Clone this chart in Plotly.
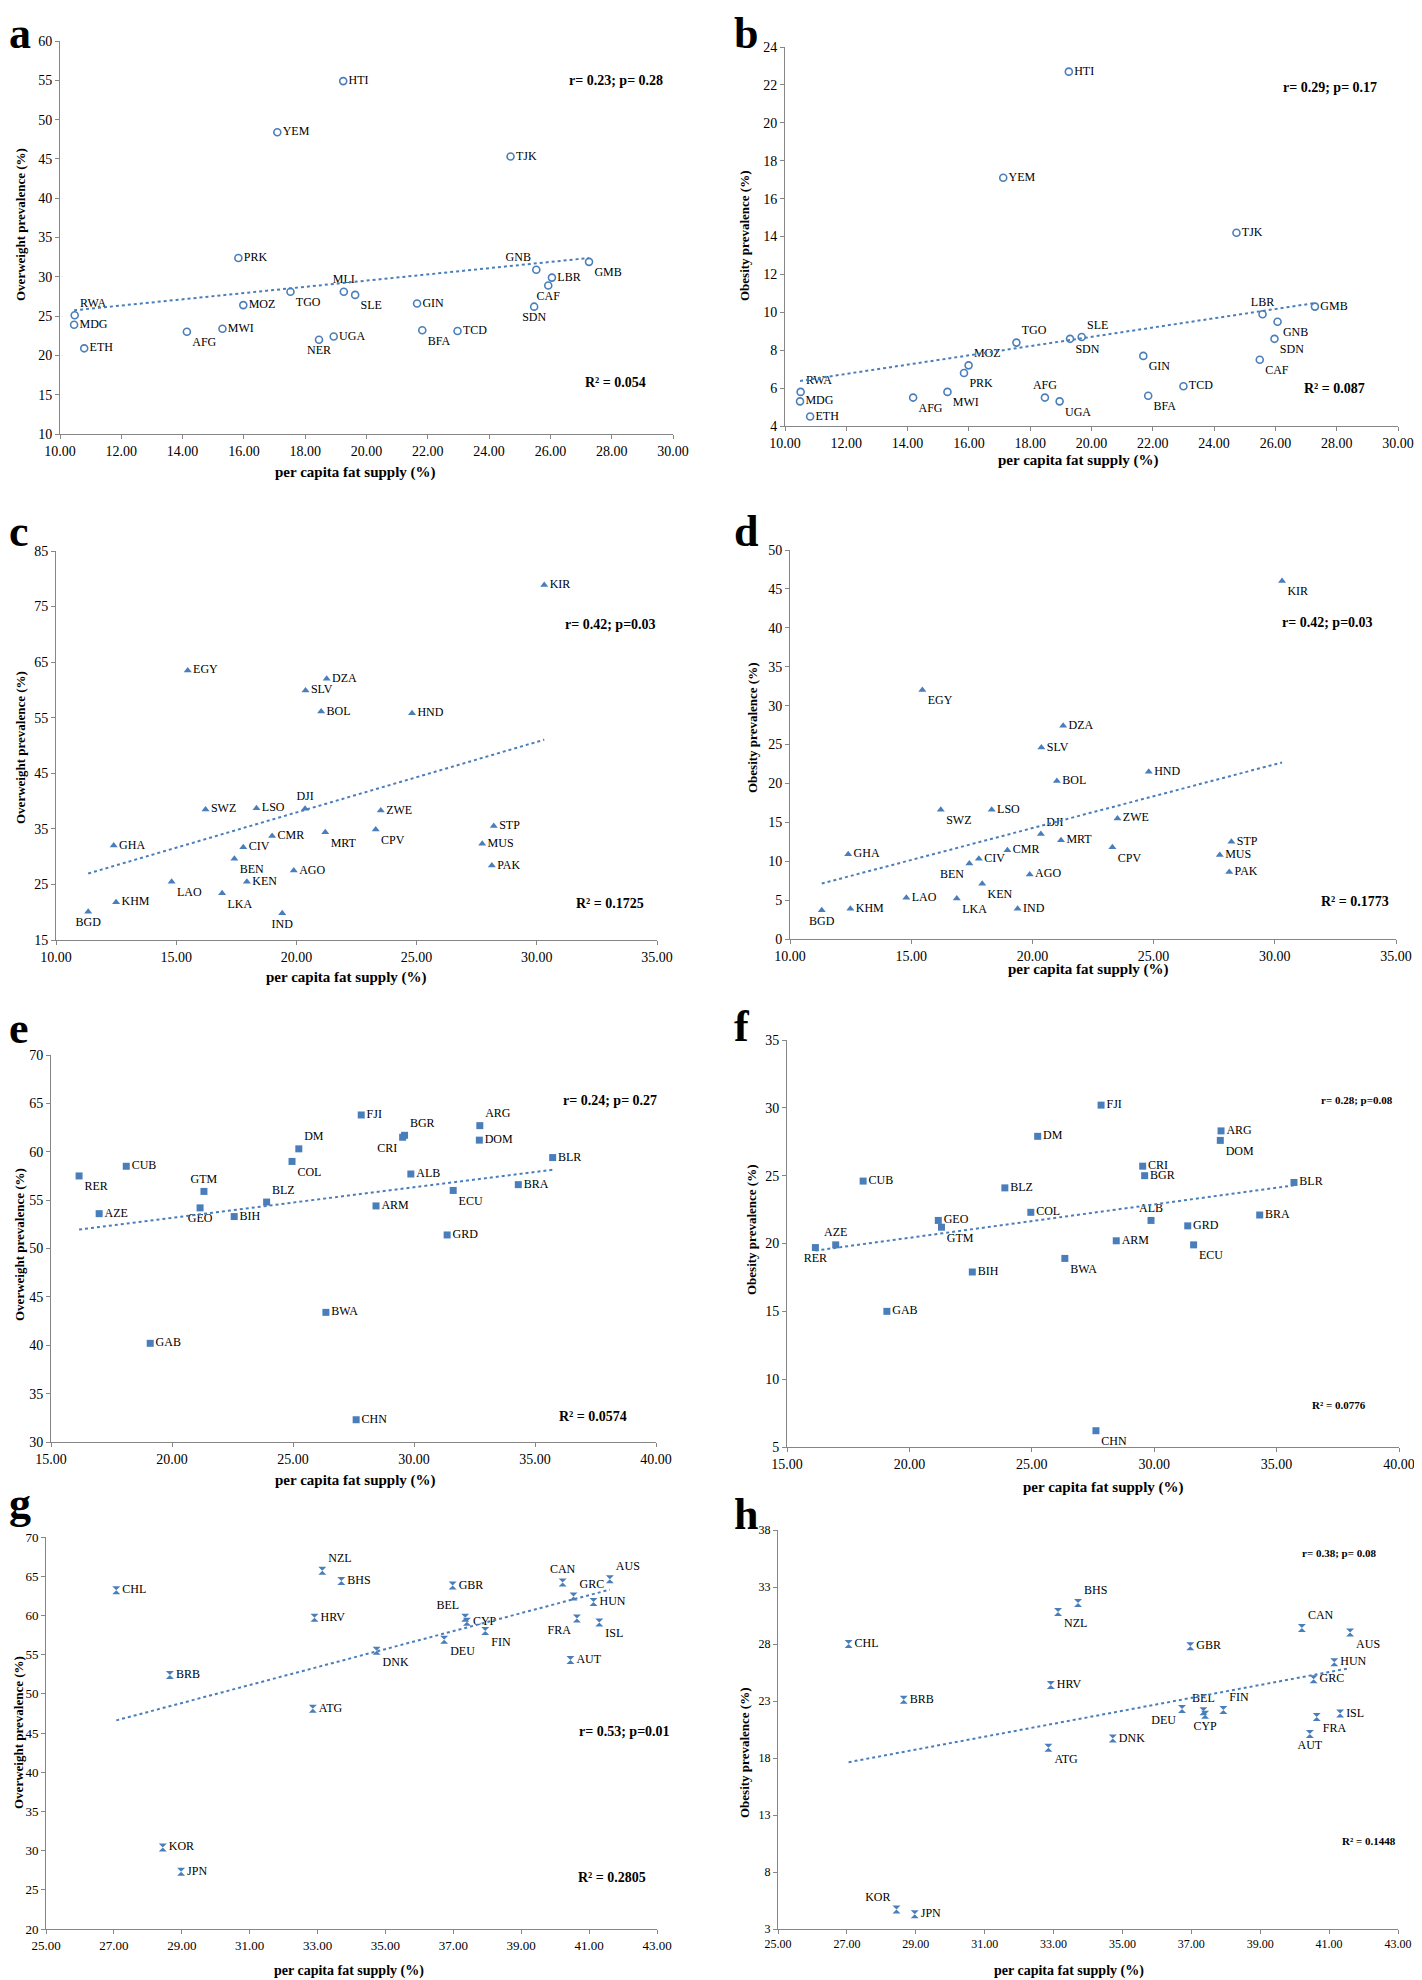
import numpy as np
import plotly.graph_objects as go

W, H = 1422, 1980
OFF = 8                      # the page body adds an 8px margin around the figure
FW, FH = W - OFF, H - OFF
BLUE = '#4a7ebb'
AXIS = '#868686'
SERIF = 'Liberation Serif'

# ---- a: overweight, low income (open circles)
codes_a = ["HTI", "YEM", "TJK", "PRK", "GNB", "LBR", "GMB", "CAF", "SDN", "MLI", "SLE", "TGO",
           "MOZ", "GIN", "RWA", "MDG", "ETH", "AFG", "MWI", "NER", "UGA", "BFA", "TCD"]
fat_a = [19.24, 17.09, 24.70, 15.82, 25.54, 26.05, 27.26, 25.93, 25.47, 19.26, 19.63, 17.52,
         15.98, 21.65, 10.48, 10.46, 10.79, 14.14, 15.30, 18.45, 18.93, 21.82, 22.97]
ow_a = [54.9, 48.4, 45.3, 32.4, 30.9, 29.9, 31.9, 28.9, 26.2, 28.1, 27.7, 28.1,
        26.4, 26.6, 25.1, 23.9, 20.9, 23.0, 23.4, 22.0, 22.4, 23.2, 23.1]

# ---- b: obesity, low income
codes_b = ["HTI", "YEM", "TJK", "LBR", "GMB", "GNB", "SDN", "CAF", "SLE", "SDN", "TGO", "MOZ",
           "PRK", "GIN", "TCD", "RWA", "MDG", "ETH", "AFG", "MWI", "AFG", "UGA", "BFA"]
fat_b = [19.26, 17.12, 24.73, 25.58, 27.29, 26.07, 25.97, 25.49, 19.68, 19.30, 17.55, 15.99,
         15.84, 21.69, 23.00, 10.51, 10.49, 10.82, 14.18, 15.30, 18.48, 18.96, 21.85]
ob_b = [22.7, 17.1, 14.2, 9.9, 10.3, 9.5, 8.6, 7.5, 8.7, 8.6, 8.4, 7.2,
        6.8, 7.7, 6.1, 5.8, 5.3, 4.5, 5.5, 5.8, 5.5, 5.3, 5.6]

# ---- c: overweight, lower-middle income (triangles)
codes_c = ["KIR", "EGY", "DZA", "SLV", "BOL", "HND", "DJI", "SWZ", "LSO", "ZWE", "STP", "CPV", "MRT",
           "CMR", "GHA", "MUS", "CIV", "BEN", "PAK", "AGO", "LAO", "KEN", "LKA", "KHM", "BGD", "IND"]
fat_c = [30.31, 15.48, 21.26, 20.38, 21.03, 24.81, 20.36, 16.22, 18.34, 23.51, 28.21, 23.30, 21.20,
         18.99, 12.40, 27.73, 17.79, 17.42, 28.13, 19.89, 14.81, 17.94, 16.91, 12.50, 11.34, 19.41]
ow_c = [78.9, 63.5, 62.0, 59.9, 56.1, 55.8, 38.6, 38.5, 38.7, 38.3, 35.5, 34.9, 34.4,
        33.7, 32.0, 32.3, 31.7, 29.6, 28.4, 27.5, 25.5, 25.5, 23.4, 21.8, 20.1, 19.8]

# ---- d: obesity, lower-middle income
codes_d = ["KIR", "EGY", "DZA", "SLV", "HND", "BOL", "LSO", "SWZ", "ZWE", "DJI", "MRT", "STP", "CPV",
           "CMR", "GHA", "MUS", "CIV", "BEN", "PAK", "AGO", "KEN", "LAO", "LKA", "KHM", "IND", "BGD"]
fat_d = [30.30, 15.46, 21.27, 20.37, 24.80, 21.01, 18.32, 16.22, 23.51, 20.35, 21.18, 28.21, 23.30,
         18.97, 12.40, 27.73, 17.79, 17.40, 28.12, 19.89, 17.93, 14.80, 16.88, 12.49, 19.39, 11.31]
ob_d = [46.0, 32.0, 27.4, 24.6, 21.5, 20.3, 16.6, 16.6, 15.5, 13.5, 12.7, 12.5, 11.8,
        11.4, 10.9, 10.8, 10.3, 9.7, 8.6, 8.3, 7.1, 5.3, 5.2, 3.9, 3.9, 3.7]

# ---- e: overweight, upper-middle income (squares)
codes_e = ["FJI", "ARG", "BGR", "CRI", "DOM", "DM", "BLR", "COL", "CUB", "ALB", "RER", "BRA",
           "ECU", "GTM", "BLZ", "ARM", "AZE", "GEO", "BIH", "GRD", "BWA", "GAB", "CHN"]
fat_e = [27.82, 32.72, 29.61, 29.53, 32.70, 25.24, 35.73, 24.96, 18.11, 29.87, 16.16, 34.31,
         31.62, 21.32, 23.91, 28.43, 16.99, 21.16, 22.57, 31.37, 26.36, 19.10, 27.61]
ow_e = [63.8, 62.7, 61.7, 61.5, 61.2, 60.3, 59.4, 59.0, 58.5, 57.7, 57.5, 56.6,
        56.0, 55.9, 54.8, 54.4, 53.6, 54.2, 53.3, 51.4, 43.4, 40.2, 32.3]

# ---- f: obesity, upper-middle income
codes_f = ["FJI", "ARG", "DM", "DOM", "CRI", "BGR", "CUB", "BLR", "BLZ", "COL", "BRA", "GEO",
           "ALB", "GRD", "GTM", "ARM", "AZE", "ECU", "RER", "BWA", "BIH", "GAB", "CHN"]
fat_f = [27.83, 32.73, 25.24, 32.70, 29.53, 29.61, 18.11, 35.71, 23.90, 24.96, 34.31, 21.18,
         29.87, 31.37, 21.31, 28.45, 16.99, 31.61, 16.16, 26.35, 22.57, 19.08, 27.62]
ob_f = [30.2, 28.3, 27.9, 27.6, 25.7, 25.0, 24.6, 24.5, 24.1, 22.3, 22.1, 21.7,
        21.7, 21.3, 21.2, 20.2, 19.9, 19.9, 19.7, 18.9, 17.9, 15.0, 6.2]

# ---- g: overweight, high income
codes_g = ["NZL", "BHS", "CAN", "AUS", "GBR", "CHL", "GRC", "HUN", "HRV", "BEL", "CYP",
           "FRA", "ISL", "FIN", "DEU", "DNK", "AUT", "BRB", "ATG", "KOR", "JPN"]
fat_g = [33.14, 33.70, 40.22, 41.61, 36.98, 27.07, 40.54, 41.13, 32.91, 37.35, 37.40,
         40.64, 41.30, 37.94, 36.73, 34.74, 40.45, 28.65, 32.86, 28.44, 28.98]
ow_g = [65.7, 64.4, 64.2, 64.6, 63.8, 63.2, 62.4, 61.7, 59.7, 59.7, 59.2,
        59.6, 59.1, 58.0, 56.9, 55.5, 54.3, 52.4, 48.1, 30.4, 27.3]

# ---- h: obesity, high income
codes_h = ["BHS", "NZL", "CAN", "AUS", "CHL", "GBR", "HUN", "GRC", "HRV", "BRB", "DEU",
           "BEL", "FIN", "CYP", "ISL", "FRA", "AUT", "DNK", "ATG", "KOR", "JPN"]
fat_h = [33.71, 33.13, 40.21, 41.61, 27.05, 36.97, 41.15, 40.55, 32.92, 28.65, 36.73,
         37.35, 37.93, 37.40, 41.32, 40.64, 40.44, 34.72, 32.85, 28.44, 28.97]
ob_h = [31.6, 30.8, 29.4, 29.0, 28.0, 27.8, 26.4, 24.9, 24.4, 23.1, 22.3,
        22.1, 22.2, 21.8, 21.9, 21.6, 20.1, 19.7, 18.9, 4.7, 4.3]

r_texts = ["r= 0.23; p= 0.28", "r= 0.29; p= 0.17", "r= 0.42; p=0.03", "r= 0.42; p=0.03",
           "r= 0.24; p= 0.27", "r= 0.28; p=0.08", "r= 0.53; p=0.01", "r= 0.38; p= 0.08"]
r2_texts = ["R² = 0.054", "R² = 0.087", "R² = 0.1725", "R² = 0.1773",
            "R² = 0.0574", "R² = 0.0776", "R² = 0.2805", "R² = 0.1448"]

# label placement next to each marker (style only)
POS = {'r': 'middle right', 'tr': 'top right', 'tl': 'top left', 'tc': 'top center',
       'br': 'bottom right', 'bl': 'bottom left', 'bc': 'bottom center', 'l': 'middle left'}
pos_a = ['r', 'r', 'r', 'r', 'tl', 'r', 'br', 'bc', 'bc', 'tc', 'br', 'br',
         'r', 'r', 'tr', 'r', 'r', 'br', 'r', 'bc', 'r', 'br', 'r']
pos_b = ['r', 'r', 'r', 'tc', 'r', 'br', 'br', 'br', 'tr', 'br', 'tr', 'tr',
         'br', 'br', 'r', 'tr', 'r', 'r', 'br', 'br', 'tc', 'br', 'br']
pos_c = ['r', 'r', 'r', 'r', 'r', 'r', 'tc', 'r', 'r', 'r', 'r', 'br', 'br',
         'r', 'r', 'r', 'r', 'br', 'r', 'r', 'br', 'r', 'br', 'r', 'bc', 'bc']
pos_d = ['br', 'br', 'r', 'r', 'r', 'r', 'r', 'br', 'r', 'tr', 'r', 'r', 'br',
         'r', 'r', 'r', 'r', 'bl', 'r', 'r', 'br', 'r', 'br', 'r', 'r', 'bc']
pos_e = ['r', 'tr', 'tr', 'bl', 'r', 'tr', 'r', 'br', 'r', 'r', 'br', 'r',
         'br', 'tc', 'tr', 'r', 'r', 'bc', 'r', 'r', 'r', 'r', 'r']
pos_f = ['r', 'r', 'r', 'br', 'r', 'r', 'r', 'r', 'r', 'r', 'r', 'r',
         'tc', 'r', 'br', 'r', 'tc', 'br', 'bc', 'br', 'r', 'r', 'br']
pos_g = ['tr', 'r', 'tc', 'tr', 'r', 'r', 'tr', 'r', 'r', 'tl', 'r',
         'bl', 'br', 'br', 'br', 'br', 'r', 'r', 'r', 'r', 'r']
pos_h = ['tr', 'br', 'tr', 'br', 'r', 'r', 'r', 'r', 'r', 'r', 'bl',
         'tc', 'tr', 'bc', 'r', 'br', 'bc', 'r', 'br', 'tl', 'r']

OW = 'Overweight prevalence (%)'
OB = 'Obesity prevalence (%)'
XT = 'per capita fat supply (%)'

# box = plot area in page pixels (left, right, top, bottom); other tuples = annotation centres
panels = [
    dict(letter='a', codes=codes_a, x=fat_a, y=ow_a, pos=pos_a, sym='circle-open', yt=OW,
         xr=[10, 30], xd=2, yr=[10, 60], yd=5, box=(60, 673, 41, 434),
         lt=(8, 8), ytl=(21, 225), xtl=(355, 473), rp=(616, 80), r2=(615, 383), rs=14, ts=14),
    dict(letter='b', codes=codes_b, x=fat_b, y=ob_b, pos=pos_b, sym='circle-open', yt=OB,
         xr=[10, 30], xd=2, yr=[4, 24], yd=2, box=(785, 1398, 47, 426),
         lt=(733, 8), ytl=(745, 236), xtl=(1078, 461), rp=(1330, 87), r2=(1334, 388), rs=14, ts=14),
    dict(letter='c', codes=codes_c, x=fat_c, y=ow_c, pos=pos_c, sym='triangle-up', yt=OW,
         xr=[10, 35], xd=5, yr=[15, 85], yd=10, box=(56, 657, 551, 940),
         lt=(8, 506), ytl=(21, 748), xtl=(346, 977), rp=(610, 625), r2=(610, 903), rs=14, ts=14),
    dict(letter='d', codes=codes_d, x=fat_d, y=ob_d, pos=pos_d, sym='triangle-up', yt=OB,
         xr=[10, 35], xd=5, yr=[0, 50], yd=5, box=(790, 1396, 550, 939),
         lt=(733, 506), ytl=(752, 728), xtl=(1088, 969), rp=(1327, 622), r2=(1355, 902), rs=14, ts=14),
    dict(letter='e', codes=codes_e, x=fat_e, y=ow_e, pos=pos_e, sym='square', yt=OW,
         xr=[15, 40], xd=5, yr=[30, 70], yd=5, box=(51, 656, 1055, 1442),
         lt=(8, 1003), ytl=(19, 1245), xtl=(355, 1480), rp=(610, 1100), r2=(593, 1416), rs=14, ts=14),
    dict(letter='f', codes=codes_f, x=fat_f, y=ob_f, pos=pos_f, sym='square', yt=OB,
         xr=[15, 40], xd=5, yr=[5, 35], yd=5, box=(787, 1399, 1040, 1447),
         lt=(733, 1001), ytl=(751, 1230), xtl=(1103, 1487), rp=(1357, 1100), r2=(1339, 1405), rs=11, ts=14),
    dict(letter='g', codes=codes_g, x=fat_g, y=ow_g, pos=pos_g, sym='hourglass', yt=OW,
         xr=[25, 43], xd=2, yr=[20, 70], yd=5, box=(46, 657, 1537, 1929),
         lt=(8, 1478), ytl=(18, 1733), xtl=(349, 1980), rp=(624, 1731), r2=(612, 1877), rs=14, ts=13),
    dict(letter='h', codes=codes_h, x=fat_h, y=ob_h, pos=pos_h, sym='hourglass', yt=OB,
         xr=[25, 43], xd=2, yr=[3, 38], yd=5, box=(778, 1398, 1530, 1929),
         lt=(733, 1489), ytl=(744, 1753), xtl=(1069, 1980), rp=(1339, 1553), r2=(1369, 1841), rs=11, ts=12),
]


def fx(x):
    return (x - OFF) / FW


def fy(y):
    return 1 - (y - OFF) / FH


fig = go.Figure()
annotations = []
axes = {}


def note(xy, text, size, angle=0, xanchor='center', yanchor='middle'):
    annotations.append(dict(
        x=max(fx(xy[0]), 0), y=min(max(fy(xy[1]), 0), 1), xref='paper', yref='paper',
        xanchor=xanchor, yanchor=yanchor, borderpad=0,
        text='<b>%s</b>' % text, showarrow=False, textangle=angle,
        font=dict(family=SERIF, size=size, color='black')))


for i, p in enumerate(panels, start=1):
    sfx = '' if i == 1 else str(i)
    x0, x1, y0, y1 = p['box']

    # points with country codes
    line_w = 1.6 if p['sym'] == 'circle-open' else 0
    fig.add_trace(go.Scatter(
        x=p['x'], y=p['y'], mode='markers+text',
        text=p['codes'], textposition=[POS[k] for k in p['pos']],
        textfont=dict(family=SERIF, size=12, color='black'),
        marker=dict(symbol=p['sym'], size=7 if p['sym'] != 'hourglass' else 8,
                    color=BLUE, line=dict(color=BLUE, width=line_w)),
        cliponaxis=False, showlegend=False,
        xaxis='x' + sfx, yaxis='y' + sfx))

    # linear trendline (Excel style), fitted on the points
    xs = np.array(p['x'])
    ys = np.array(p['y'])
    k, b = np.polyfit(xs, ys, 1)
    tx = np.array([xs.min(), xs.max()])
    fig.add_trace(go.Scatter(
        x=tx, y=k * tx + b, mode='lines',
        line=dict(color=BLUE, width=2, dash='dot'),
        showlegend=False, hoverinfo='skip',
        xaxis='x' + sfx, yaxis='y' + sfx))

    common = dict(showline=True, linecolor=AXIS, linewidth=1, ticks='outside',
                  ticklen=4, tickcolor=AXIS, showgrid=False, zeroline=False,
                  automargin=False,
                  tickfont=dict(family=SERIF, size=p['ts'], color='black'))
    axes['xaxis' + sfx] = dict(domain=[fx(x0), fx(x1)], anchor='y' + sfx,
                               range=p['xr'], tick0=p['xr'][0], dtick=p['xd'],
                               tickformat='.2f', **common)
    axes['yaxis' + sfx] = dict(domain=[fy(y1), fy(y0)], anchor='x' + sfx,
                               range=p['yr'], tick0=p['yr'][0], dtick=p['yd'], **common)

    note(p['lt'], p['letter'], 44, xanchor='left', yanchor='top')
    note(p['ytl'], p['yt'], 13, angle=-90)
    if i >= 7:
        note(p['xtl'], XT, 14, yanchor='bottom')
    else:
        note(p['xtl'], XT, 15)
    note(p['rp'], r_texts[i - 1], p['rs'])
    note(p['r2'], r2_texts[i - 1], p['rs'])

fig.update_layout(
    width=FW, height=FH,
    margin=dict(l=0, r=0, t=0, b=0),
    paper_bgcolor='white', plot_bgcolor='white',
    annotations=annotations,
    **axes)

fig.write_html("out.html")
